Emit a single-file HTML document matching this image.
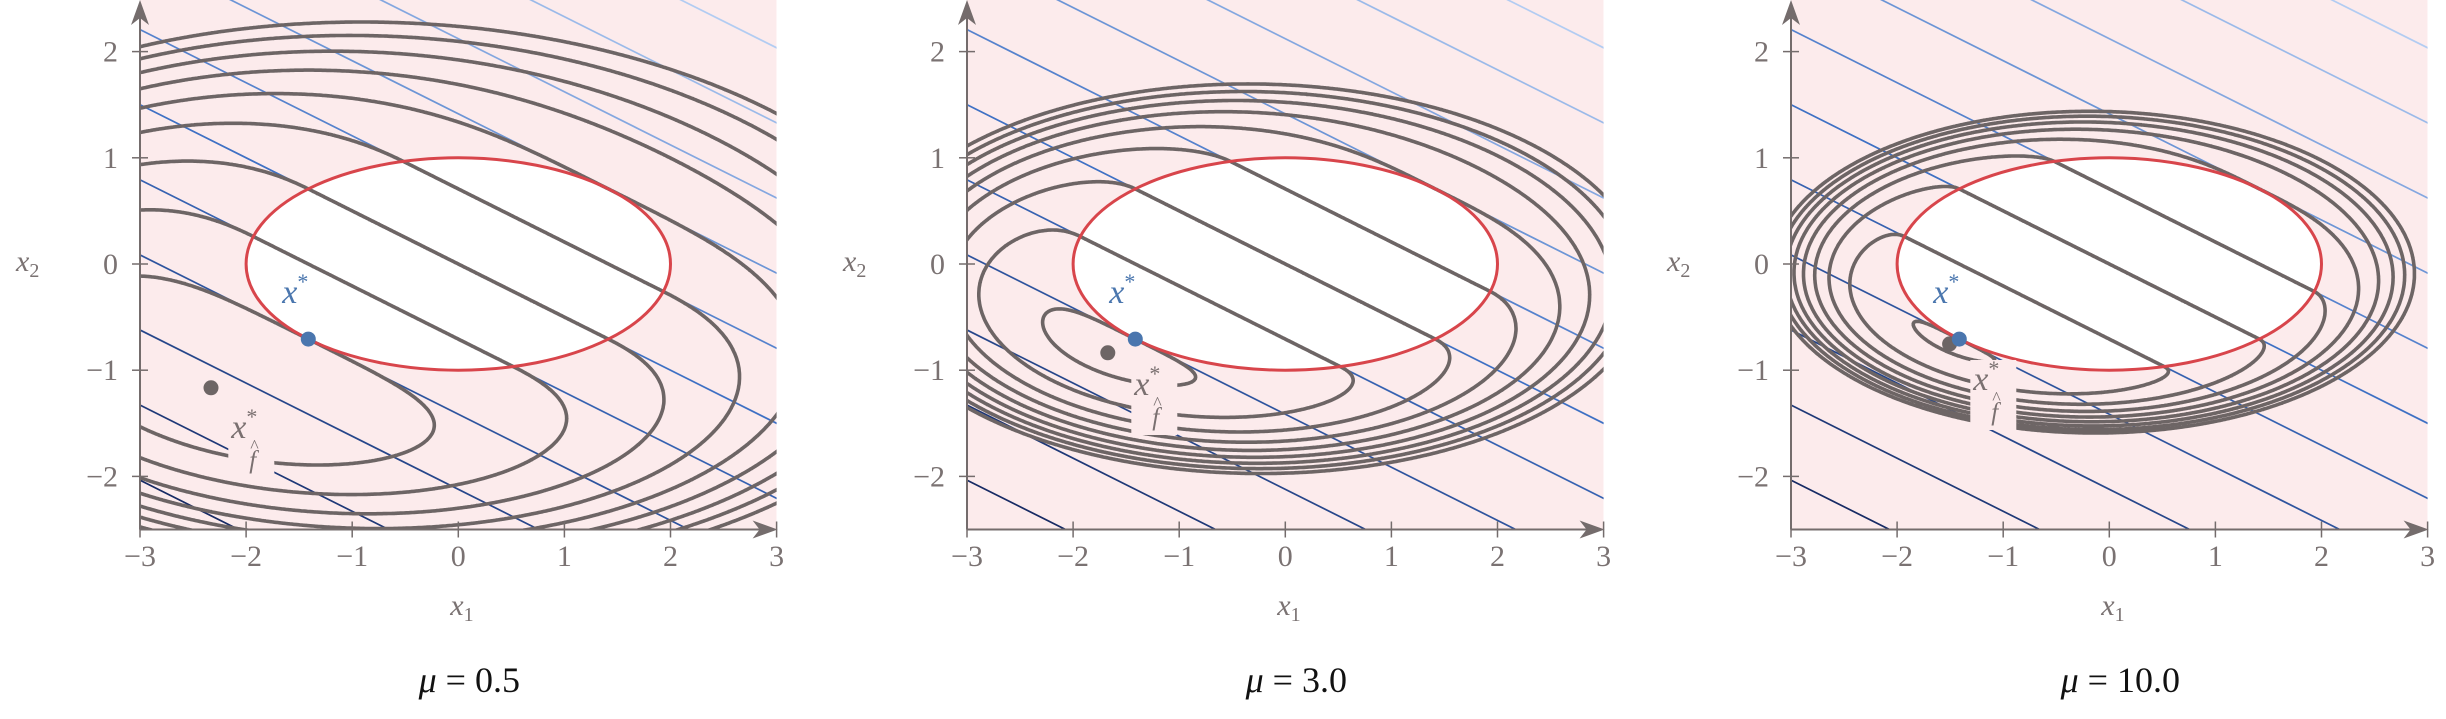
<!DOCTYPE html>
<html><head><meta charset="utf-8"><style>
html,body{margin:0;padding:0;background:#fff;width:2446px;height:719px;overflow:hidden;}
svg{display:block;}
text{font-family:"Liberation Serif",serif;}
</style></head><body>
<svg id="s" xmlns="http://www.w3.org/2000/svg" width="2446" height="719" viewBox="0 0 2446 719"></svg>
<script>
(function(){
var S=document.getElementById('s');
var SX=106.1, SY=106.2, Y0=264;
var panels=[{ox:140,mu:0.5,lab:'0.5',lx:-227,lb:438},{ox:967,mu:3.0,lab:'3.0',lx:-151,lb:395},{ox:1791,mu:10.0,lab:'10.0',lx:-136,lb:390}];
var html='';
html+='<defs>';
panels.forEach(function(p,i){
  html+='<clipPath id="c'+i+'"><rect x="'+p.ox+'" y="0" width="'+(6*SX)+'" height="'+(Y0+2.5*SY)+'"/></clipPath>';
});
html+='</defs>';
var R2=Math.SQRT2;
function lerp(a,b,t){return Math.round(a+(b-a)*t);}
function bcol(k){
  var t=(k+5)/10;
  var c0=[22,42,100],c1=[62,112,196],c2=[178,204,242];
  if(t<0.5){t=t*2;return 'rgb('+lerp(c0[0],c1[0],t)+','+lerp(c0[1],c1[1],t)+','+lerp(c0[2],c1[2],t)+')';}
  t=(t-0.5)*2;
  return 'rgb('+lerp(c1[0],c2[0],t)+','+lerp(c1[1],c2[1],t)+','+lerp(c1[2],c2[2],t)+')';
}
panels.forEach(function(p,pi){
  var X=function(x){return p.ox+(x+3)*SX;};
  var Y=function(y){return Y0-y*SY;};
  var bot=Y(-2.5);
  html+='<g clip-path="url(#c'+pi+')">';
  html+='<rect x="'+p.ox+'" y="0" width="'+(6*SX)+'" height="'+bot+'" fill="#fcebec"/>';
  for(var k=-5;k<=5;k++){
    var c=k*R2;
    var xa=-4, xb=4;
    var ya=(c-xa)/2, yb=(c-xb)/2;
    html+='<line x1="'+X(xa).toFixed(1)+'" y1="'+Y(ya).toFixed(1)+'" x2="'+X(xb).toFixed(1)+'" y2="'+Y(yb).toFixed(1)+'" stroke="'+bcol(k)+'" stroke-width="1.7"/>';
  }
  html+='<ellipse cx="'+X(0)+'" cy="'+Y(0)+'" rx="'+(2*SX)+'" ry="'+SY+'" fill="#fff"/>';
  var mu=p.mu;
  function f(x,y){var g=x*x/4+y*y-1; if(g<0)g=0; return x+2*y+mu/2*g*g;}
  var nx=420, ny=350;
  var x0=-3.02,x1=3.02,y0=-2.52,y1=2.52;
  var dx=(x1-x0)/nx, dy=(y1-y0)/ny;
  var F=[];
  for(var j=0;j<=ny;j++){var row=new Float64Array(nx+1);for(var i=0;i<=nx;i++){row[i]=f(x0+i*dx,y0+j*dy);}F.push(row);}
  var d='';
  for(var k=-2;k<=6;k++){
    var L=k*R2;
    for(var j=0;j<ny;j++){
      for(var i=0;i<nx;i++){
        var v0=F[j][i]-L,v1=F[j][i+1]-L,v2=F[j+1][i+1]-L,v3=F[j+1][i]-L;
        var pts=[];
        var xa=x0+i*dx, ya=y0+j*dy;
        if((v0>0)!=(v1>0)){var t=v0/(v0-v1);pts.push([xa+t*dx,ya]);}
        if((v1>0)!=(v2>0)){var t=v1/(v1-v2);pts.push([xa+dx,ya+t*dy]);}
        if((v2>0)!=(v3>0)){var t=v2/(v2-v3);pts.push([xa+dx-t*dx,ya+dy]);}
        if((v3>0)!=(v0>0)){var t=v3/(v3-v0);pts.push([xa,ya+dy-t*dy]);}
        for(var q=0;q+1<pts.length;q+=2){
          d+='M'+X(pts[q][0]).toFixed(1)+' '+Y(pts[q][1]).toFixed(1)+'L'+X(pts[q+1][0]).toFixed(1)+' '+Y(pts[q+1][1]).toFixed(1);
        }
      }
    }
  }
  html+='<path d="'+d+'" stroke="#6d6565" stroke-width="3.6" stroke-linecap="round" fill="none"/>';
  html+='<ellipse cx="'+X(0)+'" cy="'+Y(0)+'" rx="'+(2*SX)+'" ry="'+SY+'" fill="none" stroke="#d8454b" stroke-width="3"/>';
  var lx=X(0)+p.lx, lb=p.lb;
  html+='<rect x="'+(lx-3)+'" y="'+(lb-30)+'" width="46" height="70" fill="#fcebec"/>';
  html+='</g>';
  var lo=-3,hi=-0.71;
  for(var it=0;it<80;it++){var m=(lo+hi)/2; var v=mu*m*(2*m*m-1)+1; if(v<0)lo=m; else hi=m;}
  var t=(lo+hi)/2;
  html+='<circle cx="'+X(2*t).toFixed(1)+'" cy="'+Y(t).toFixed(1)+'" r="7.5" fill="#6d6565"/>';
  html+='<circle cx="'+X(-R2).toFixed(1)+'" cy="'+Y(-R2/2).toFixed(1)+'" r="7.5" fill="#4a76ae"/>';
  html+='<text x="'+(X(0)-176)+'" y="303" font-size="34" font-style="italic" fill="#4a76ae">x<tspan font-size="22" font-style="normal" dy="-14">*</tspan></text>';
  html+='<text x="'+lx+'" y="'+lb+'" font-size="34" font-style="italic" fill="#7a7070">x<tspan font-size="22" font-style="normal" dy="-14">*</tspan></text>';
  html+='<text x="'+(lx+18)+'" y="'+(lb+30)+'" font-size="25" font-style="italic" fill="#7a7070">f</text>';
  html+='<text x="'+(lx+19)+'" y="'+(lb+14)+'" font-size="18" fill="#7a7070">^</text>';
  var ac='#746c6c';
  html+='<line x1="'+X(-3)+'" y1="'+bot+'" x2="'+(X(3)-10)+'" y2="'+bot+'" stroke="'+ac+'" stroke-width="2"/>';
  html+='<path d="M'+(X(3)+1)+' '+bot+'L'+(X(3)-24)+' '+(bot-9)+'L'+(X(3)-17)+' '+bot+'L'+(X(3)-24)+' '+(bot+9)+'Z" fill="'+ac+'"/>';
  html+='<line x1="'+X(-3)+'" y1="'+bot+'" x2="'+X(-3)+'" y2="12" stroke="'+ac+'" stroke-width="2"/>';
  html+='<path d="M'+X(-3)+' 0L'+(X(-3)-9)+' 25L'+X(-3)+' 18L'+(X(-3)+9)+' 25Z" fill="'+ac+'"/>';
  for(var v=-3;v<=3;v++){
    html+='<line x1="'+X(v)+'" y1="'+(bot-8)+'" x2="'+X(v)+'" y2="'+(bot+8)+'" stroke="'+ac+'" stroke-width="1.5"/>';
    html+='<text x="'+X(v)+'" y="566" font-size="30" text-anchor="middle" fill="#7a7272">'+(v<0?'\u2212'+(-v):v)+'</text>';
  }
  for(var v=-2;v<=2;v++){
    html+='<line x1="'+(X(-3)-8)+'" y1="'+Y(v)+'" x2="'+(X(-3)+8)+'" y2="'+Y(v)+'" stroke="'+ac+'" stroke-width="1.5"/>';
    html+='<text x="'+(X(-3)-22)+'" y="'+(Y(v)+10)+'" font-size="30" text-anchor="end" fill="#7a7272">'+(v<0?'\u2212'+(-v):v)+'</text>';
  }
  html+='<text x="'+(X(0)-8)+'" y="615" font-size="30" font-style="italic" fill="#7a7272">x<tspan font-size="20" font-style="normal" dy="6">1</tspan></text>';
  html+='<text x="'+(p.ox-124)+'" y="271" font-size="30" font-style="italic" fill="#7a7272">x<tspan font-size="20" font-style="normal" dy="6">2</tspan></text>';
  html+='<text x="'+(X(0)+11)+'" y="692" font-size="36" text-anchor="middle" fill="#111"><tspan font-style="italic">\u03bc</tspan> = '+p.lab+'</text>';
});
S.innerHTML=html;
})();
</script>
</body></html>
